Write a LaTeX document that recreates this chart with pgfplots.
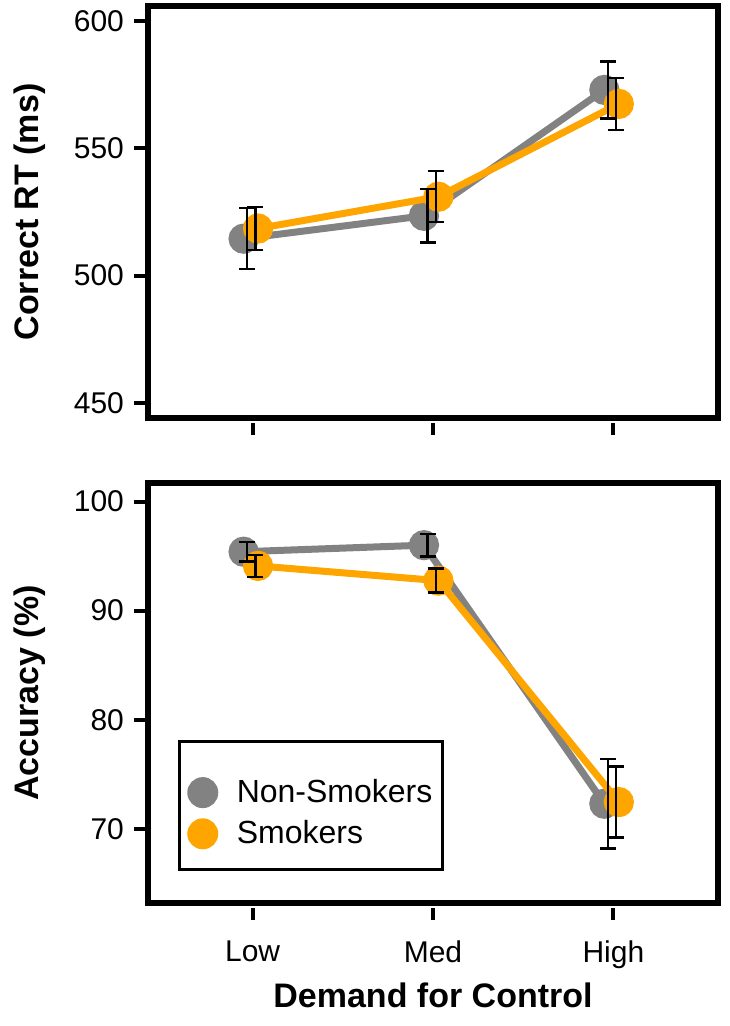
\documentclass[border=0pt]{standalone}
\usepackage{fontspec}
\setmainfont{Liberation Sans}
\usepackage{pgfplots}
\pgfplotsset{compat=1.18}

\definecolor{nsgray}{RGB}{130,130,130}
\definecolor{smorange}{RGB}{255,165,0}
\newcommand\tickfont{\fontsize{15}{18}\selectfont}
\newcommand\labfont{\fontsize{17}{20}\selectfont\bfseries}
\newcommand\legfont{\fontsize{16}{19}\selectfont}

\pgfplotsset{
  panel/.style={
    clip=false, clip marker paths=true,
    scale only axis, width=285pt,
    xmin=-0.58, xmax=2.58, xtick={0,1,2},
    axis line style={line width=2.8pt},
    tick align=outside, xtick pos=bottom, ytick pos=left,
    major tick length=6pt,
    major tick style={line width=2pt, black},
    xtick style={yshift=-2.5pt},
    ytick style={xshift=-1pt},
    tick label style={font=\tickfont},
    yticklabel style={xshift=-2.5pt},
    /pgf/number format/assume math mode=true,
    ylabel style={font=\labfont, at={(rel axis cs:-0.207,0.5)}, anchor=center},
  },
  series/.style={line width=3.5pt, color=#1, mark=*, mark size=5.8pt,
    mark options={solid, fill=#1, draw=#1}, forget plot},
  ebar/.style={draw=none, mark=none, forget plot,
    error bars/y dir=both, error bars/y explicit,
    error bars/error bar style={draw=black, line width=1.2pt},
    error bars/error mark options={rotate=90, draw=black, mark size=4pt, line width=1.2pt}},
}

\begin{document}
\begin{tikzpicture}
\useasboundingbox (-74pt,0pt) rectangle (290.5pt,513pt);

% top panel: reaction time
\begin{axis}[panel, at={(0pt,304pt)}, anchor=south west, height=206pt,
  ymin=444, ymax=606, ytick={450,500,550,600},
  xticklabels={}, ylabel={Correct RT (ms)}]
\addplot[series=nsgray] coordinates {(-0.05,514.5) (0.95,523.5) (1.95,573)};
\addplot[series=smorange] coordinates {(0.03,518.5) (1.03,531) (2.03,567.5)};
\addplot[ebar] coordinates {(-0.03,514.5) +- (0,12) (0.97,523.5) +- (0,10.5) (1.97,573) +- (0,11.2)};
\addplot[ebar] coordinates {(0.015,518.5) +- (0,8.5) (1.015,531) +- (0,10) (2.015,567.5) +- (0,10.3)};
\end{axis}

% bottom panel: accuracy
\begin{axis}[panel, at={(0pt,61.5pt)}, anchor=south west, height=210pt,
  ymin=63.2, ymax=101.7, ytick={70,80,90,100},
  xticklabels={Low,Med,High},
  xticklabel style={yshift=-9.5pt},
  ylabel={Accuracy (\%)},
  xlabel={Demand for Control},
  xlabel style={font=\labfont, at={(rel axis cs:0.5,-0.219)}, anchor=center},
  legend cell align=left,
  legend style={at={(rel axis cs:0.053,0.388)}, anchor=north west,
    draw=black, line width=1.5pt, font=\legfont, row sep=3.5pt,
    column sep=8pt, inner xsep=3pt, inner ysep=9.5pt}]
\addlegendimage{empty legend}
\addlegendentry[inner sep=0pt]{\rule{0pt}{2.5pt}}
\addlegendimage{only marks, mark=*, mark size=7pt, color=nsgray}
\addlegendentry{Non-Smokers}
\addlegendimage{only marks, mark=*, mark size=7pt, color=smorange}
\addlegendentry{Smokers}
\addplot[series=nsgray] coordinates {(-0.05,95.4) (0.95,96.0) (1.95,72.3)};
\addplot[series=smorange] coordinates {(0.03,94.1) (1.03,92.75) (2.03,72.45)};
\addplot[ebar] coordinates {(-0.03,95.4) +- (0,0.9) (0.97,96.0) +- (0,1.05) (1.97,72.3) +- (0,4.1)};
\addplot[ebar] coordinates {(0.015,94.1) +- (0,1.0) (1.015,92.75) +- (0,1.1) (2.015,72.45) +- (0,3.25)};
\end{axis}
\end{tikzpicture}
\end{document}
